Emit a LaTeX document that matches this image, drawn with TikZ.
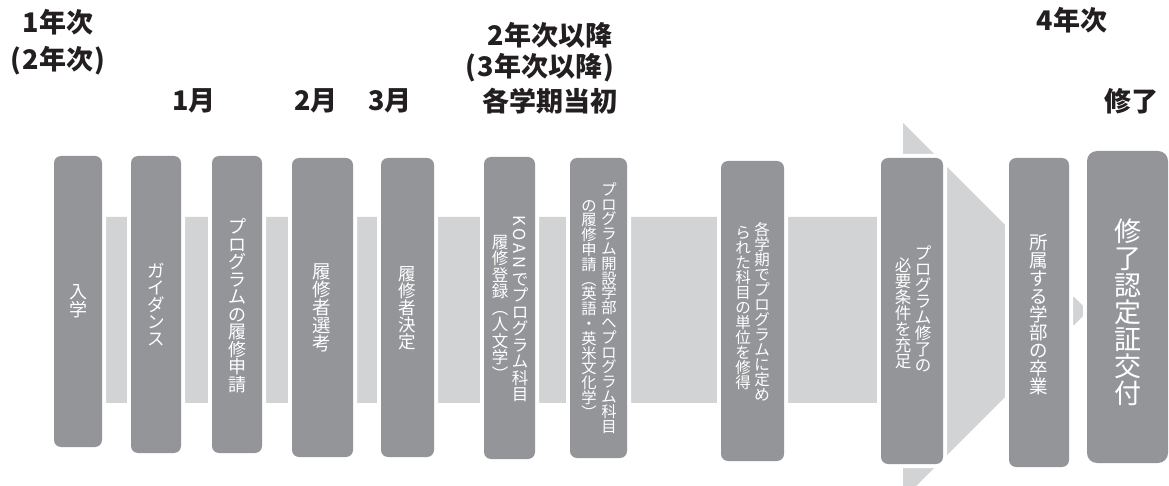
\documentclass[tikz,border=0pt]{standalone}
\usepackage{fontspec}
\setmainfont{Noto Sans CJK JP}
\usetikzlibrary{fit}
\definecolor{boxgray}{RGB}{148,149,153}
\definecolor{bargray}{RGB}{209,211,212}
\definecolor{ink}{RGB}{35,31,32}
\ExplSyntaxOn
\dim_new:N \l_my_adv_dim
\NewDocumentCommand\vstack{m m}{
  \dim_set:Nn \l_my_adv_dim {#1}
  \vbox{
    \baselineskip=0pt \lineskip=0pt \lineskiplimit=\maxdimen
    \tl_map_inline:nn {#2} {
      \hbox_to_wd:nn {1.2em} { \hss \vrule width0pt height.88\l_my_adv_dim depth.12\l_my_adv_dim ##1 \hss }
    }
  }
}
\ExplSyntaxOff
\newcommand\rotkoan{\raisebox{\depth}{\rotatebox{-90}{\addfontfeature{LetterSpace=18}KOAN}}}
\begin{document}
\begin{tikzpicture}[x=1bp,y=-1bp,
  stepbox/.style={fill=boxgray, rounded corners=7bp, inner sep=0pt, outer sep=0pt,
    preaction={draw=white, line width=8bp}},
  lab/.style={text=ink, inner sep=0pt, font=\bfseries\fontsize{27bp}{33bp}\selectfont, align=center},
  vt/.style={text=white, inner sep=0pt}]
\clip (0,0) rectangle (1169,486);
\fill[white] (0,0) rectangle (1169,486);
% background bar and arrows
\fill[bargray] (100,217) -- (903,217) -- (903,123) -- (1005,225) -- (1005,397)
   -- (903,499) -- (903,403) -- (100,403) -- cycle;
\fill[bargray] (1060,297) -- (1074,297) -- (1088,311) -- (1074,325) -- (1060,325) -- cycle;
% boxes
\node[stepbox, fit={(54,156)(102,447)}] (b1) {};
\node[stepbox, fit={(131,156)(181,453)}] (b2) {};
\node[stepbox, fit={(212,156)(262,453)}] (b3) {};
\node[stepbox, fit={(292,158)(353,457)}] (b4) {};
\node[stepbox, fit={(381,158)(434,457)}] (b5) {};
\node[stepbox, fit={(484,157)(535,459)}] (b6) {};
\node[stepbox, fit={(570,158)(627,458)}] (b7) {};
\node[stepbox, fit={(721,161)(784,461)}] (b8) {};
\node[stepbox, fit={(881,158)(943,464)}] (b9) {};
\node[stepbox, fit={(1009,158)(1069,467)}] (b10) {};
\node[stepbox, rounded corners=10bp, fit={(1087,151)(1168,463)}] (b11) {};
% box texts
\node[vt, font=\fontsize{18bp}{18bp}\selectfont] (t1) at (78,301) {\vstack{17.5bp}{入学}};
\node[vt, font=\fontsize{17.5bp}{17.5bp}\selectfont] (t2) at (156,305) {\vstack{17bp}{ガイダンス}};
\node[vt, font=\fontsize{18bp}{18bp}\selectfont] (t3) at (237,306) {\vstack{17.5bp}{プログラムの履修申請}};
\node[vt, font=\fontsize{18.5bp}{18.5bp}\selectfont] (t4) at (322,308) {\vstack{18bp}{履修者選考}};
\node[vt, font=\fontsize{17.5bp}{17.5bp}\selectfont] (t5) at (407,308) {\vstack{17bp}{履修者決定}};
\node[vt, font=\fontsize{16.5bp}{16.5bp}\selectfont] (t6a) at (520,309) {\vstack{16.5bp}{{\rotkoan}でプログラム科目}};
\node[vt, font=\fontsize{16.5bp}{16.5bp}\selectfont] (t6b) at (500,308) {\vstack{16.5bp}{履修登録︵人文学︶}};
\node[vt, font=\fontsize{15.3bp}{15.3bp}\selectfont] (t7a) at (609,308) {\vstack{14.8bp}{プログラム開設学部へプログラム科目}};
\node[vt, font=\fontsize{15.3bp}{15.3bp}\selectfont] (t7b) at (589,309) {\vstack{14.8bp}{の履修申請︵英語・英米文化学︶}};
\node[vt, font=\fontsize{15.5bp}{15.5bp}\selectfont] (t8a) at (762,312) {\vstack{15bp}{各学期でプログラムに定め}};
\node[vt, font=\fontsize{15.5bp}{15.5bp}\selectfont] (t8b) at (743,308) {\vstack{15bp}{られた科目の単位を修得}};
\node[vt, font=\fontsize{16.5bp}{16.5bp}\selectfont] (t9a) at (923,309) {\vstack{16bp}{プログラム修了の}};
\node[vt, font=\fontsize{16.5bp}{16.5bp}\selectfont] (t9b) at (903,313) {\vstack{16bp}{必要条件を充足}};
\node[vt, font=\fontsize{18.5bp}{18.5bp}\selectfont] (t10) at (1039,315) {\vstack{18bp}{所属する学部の卒業}};
\node[vt, font=\fontsize{27bp}{27bp}\selectfont] (t11) at (1128,312) {\vstack{27bp}{修了認定証交付}};
% top labels
\node[lab] (l1) at (58,22) {1年次};
\node[lab] (l2) at (58,61) {(\kern1bp 2年次\kern1bp)};
\node[lab] (l3) at (194,101) {1月};
\node[lab] (l4) at (316,101) {2月};
\node[lab] (l5) at (390,101) {3月};
\node[lab] (l6) at (550,35) {2年次以降};
\node[lab] (l7) at (540,68) {(\kern1bp 3年次以降\kern1bp)};
\node[lab] (l8) at (550,101) {各学期当初};
\node[lab] (l9) at (1072,20) {4年次};
\node[lab] (l10) at (1131,101) {修了};
\end{tikzpicture}
\end{document}
